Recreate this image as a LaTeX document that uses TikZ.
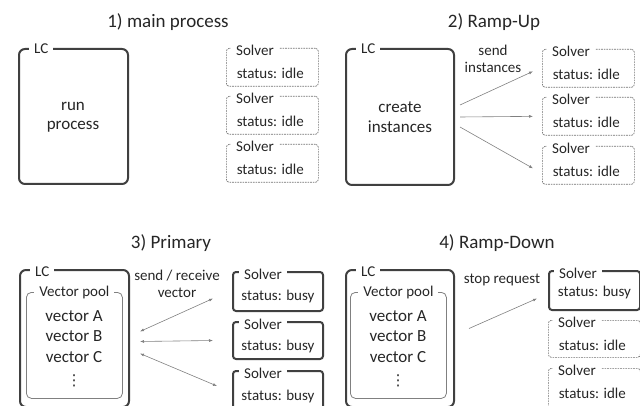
\documentclass[tikz,border=0pt]{standalone}
\usepackage{fontspec}
\setmainfont{Carlito}
\newfontfamily\djv{DejaVu Sans}
\usetikzlibrary{arrows.meta,calc}
\definecolor{bord}{HTML}{404040}
\definecolor{dashgray}{HTML}{707070}
\definecolor{arrgray}{HTML}{808080}
\definecolor{txt}{HTML}{262626}
\begin{document}
\begin{tikzpicture}[x=1pt,y=-1pt,
  every node/.style={text=txt},
  lcbox/.style={draw=bord, line width=2pt, rounded corners=6pt, anchor=north west, inner sep=0pt, minimum width=109pt},
  poolbox/.style={draw=arrgray, line width=0.8pt, rounded corners=5pt, anchor=north west, inner sep=0pt, minimum width=96pt, minimum height=106pt},
  busybox/.style={draw=bord, line width=2pt, rounded corners=3pt, anchor=north west, inner sep=0pt, minimum width=90pt},
  idlebox/.style={draw=dashgray, line width=0.7pt, dash pattern=on 1.6pt off 1pt, rounded corners=3pt, anchor=north west, inner sep=0pt, minimum width=92pt},
  tag/.style={fill=white, inner xsep=5pt, inner ysep=1pt, anchor=west, font=\fontsize{15}{17}\selectfont},
  ttl/.style={font=\fontsize{19}{22}\selectfont},
  big/.style={font=\fontsize{17}{19.5}\selectfont, align=center},
  vec/.style={font=\fontsize{17}{19.5}\selectfont, inner sep=0pt},
  sm/.style={font=\fontsize{15}{16.5}\selectfont, align=center},
  dotsn/.style={font=\djv\fontsize{15}{16}\selectfont, inner sep=0pt},
  arr/.style={draw=arrgray, line width=0.6pt, -{Latex[length=4pt,width=3pt]}},
  arrb/.style={draw=arrgray, line width=0.6pt, {Latex[length=4pt,width=3pt]}-{Latex[length=4pt,width=3pt]}}
]
\useasboundingbox (0,0) rectangle (640,406);
\clip (0,0) rectangle (640,406);

% ---------- Panel 1 ----------
\node[ttl] (t1) at (168,22) {1) main process};
\node[lcbox, minimum height=135pt] (lc1) at (18,48) {};
\node[tag] (lc1l) at ([xshift=11pt,yshift=-1pt]lc1.north west) {LC};
\node[big] (lc1t) at (73,117) {run\\process};
\foreach \n/\y in {s11/48, s12/96, s13/144}{
  \node[idlebox, minimum height=38pt] (\n) at (226,\y) {};
  \node[tag] (\n l) at ([xshift=5pt,yshift=-2pt]\n.north west) {Solver};
  \node[sm] (\n s) at ([xshift=-2pt,yshift=-25pt]\n.north) {status: idle};
}

% ---------- Panel 2 ----------
\node[ttl] (t2) at (494,22) {2) Ramp-Up};
\node[lcbox, minimum height=136pt, minimum width=108pt] (lc2) at (345,48) {};
\node[tag] (lc2l) at ([xshift=11pt,yshift=-1pt]lc2.north west) {LC};
\node[big] (lc2t) at (400,117) {create\\instances};
\foreach \n/\y in {s21/49, s22/97, s23/146}{
  \node[idlebox, minimum height=38pt] (\n) at (542,\y) {};
  \node[tag] (\n l) at ([xshift=5pt,yshift=-2pt]\n.north west) {Solver};
  \node[sm] (\n s) at ([xshift=-2pt,yshift=-25pt]\n.north) {status: idle};
}
\node[sm] (send) at (493,59) {send\\instances};
\draw[arr] ($(lc2.east)+(5,-12)$) -- ($(s21.west)+(-9,3)$);
\draw[arr] ($(lc2.east)+(5,0)$) -- ($(s22.west)+(-9,0)$);
\draw[arr] ($(lc2.east)+(5,10)$) -- ($(s23.west)+(-9,3)$);

% ---------- Panel 3 ----------
\node[ttl] (t3) at (171,243) {3) Primary};
\node[lcbox, minimum height=137pt] (lc3) at (19,269) {};
\node[tag] (lc3l) at ([xshift=11pt,yshift=-3pt]lc3.north west) {LC};
\node[poolbox] (pool3) at (26,292) {};
\node[tag, anchor=center] (pool3l) at ([yshift=-1pt]pool3.north) {Vector pool};
\node[vec] (va3) at (74,316) {vector A};
\node[vec] (vb3) at (74,336) {vector B};
\node[vec] (vc3) at (74,357) {vector C};
\node[dotsn] (vd3) at (74,381) {⋮};
\node[sm] (sr) at (177,284) {send / receive\\vector};
\node[busybox, minimum height=39pt] (s31) at (232,271) {};
\node[busybox, minimum height=37pt] (s32) at (232,321) {};
\node[busybox, minimum height=50pt] (s33) at (232,370) {};
\foreach \n in {s31,s32,s33}{
  \node[tag] (\n l) at ([xshift=7pt,yshift=-3pt]\n.north west) {Solver};
  \node[sm] (\n s) at ([yshift=-26pt]\n.north) {status: busy};
}
\draw[arrb] ($(lc3.east)+(10,-7)$) -- ($(s31.west)+(-19,7)$);
\draw[arrb] ($(lc3.east)+(10,3)$) -- ($(s32.west)+(-19,0)$);
\draw[arrb] ($(lc3.east)+(10,15)$) -- ($(s33.west)+(-15,-10)$);

% ---------- Panel 4 ----------
\node[ttl] (t4) at (497,243) {4) Ramp-Down};
\node[lcbox, minimum height=137pt, minimum width=108pt] (lc4) at (345,269) {};
\node[tag] (lc4l) at ([xshift=11pt,yshift=-3pt]lc4.north west) {LC};
\node[poolbox] (pool4) at (350,292) {};
\node[tag, anchor=center] (pool4l) at ([yshift=-1pt]pool4.north) {Vector pool};
\node[vec] (va4) at (398,316) {vector A};
\node[vec] (vb4) at (398,336) {vector B};
\node[vec] (vc4) at (398,357) {vector C};
\node[dotsn] (vd4) at (398,381) {⋮};
\node[sm] (stop) at (502,280) {stop request};
\node[busybox, minimum height=39pt, minimum width=91pt] (s41) at (548,270) {};
\node[tag] (s41l) at ([xshift=6pt,yshift=-3pt]s41.north west) {Solver};
\node[sm] (s41s) at ([yshift=-23pt]s41.north) {status: busy};
\node[idlebox, minimum height=37pt] (s42) at (548,320) {};
\node[idlebox, minimum height=50pt] (s43) at (548,368) {};
\foreach \n in {s42,s43}{
  \node[tag] (\n l) at ([xshift=5pt,yshift=-2pt]\n.north west) {Solver};
  \node[sm] (\n s) at ([xshift=-2pt,yshift=-25pt]\n.north) {status: idle};
}
\draw[arr] ($(lc4.east)+(14,-10)$) -- ($(s41.west)+(-11,8)$);
\end{tikzpicture}
\end{document}
